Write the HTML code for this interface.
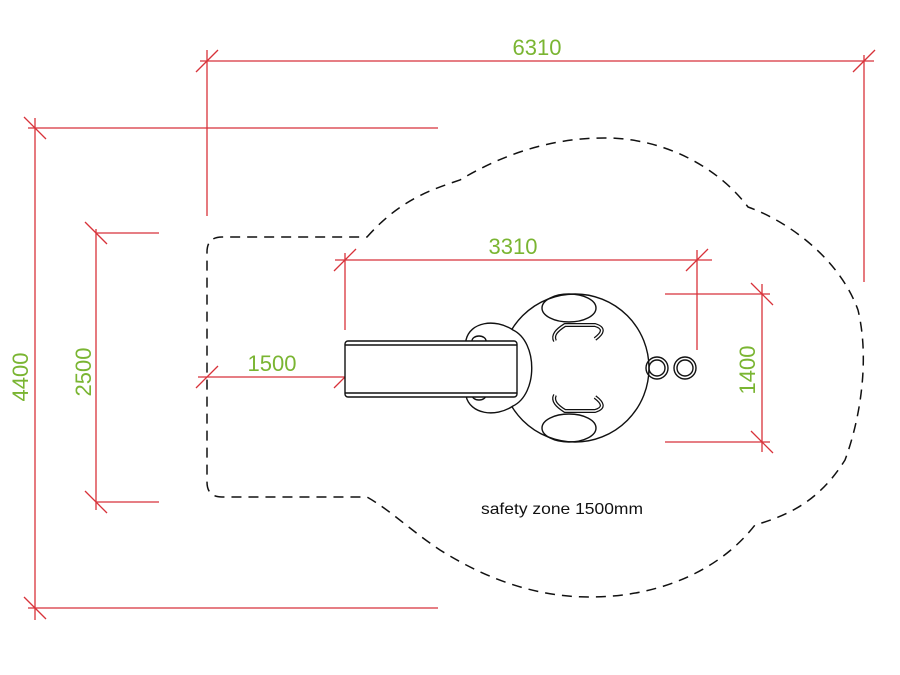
<!DOCTYPE html>
<html><head><meta charset="utf-8"><style>html,body{margin:0;padding:0;background:#fff}svg{display:block}</style></head>
<body>
<svg width="900" height="675" viewBox="0 0 900 675" xmlns="http://www.w3.org/2000/svg">
<g stroke="#d8323a" stroke-width="1.3" fill="none">
<!-- 6310 -->
<line x1="200" y1="61" x2="874" y2="61"/>
<line x1="207" y1="50" x2="207" y2="216"/>
<line x1="864" y1="55" x2="864" y2="282"/>
<line x1="196" y1="72" x2="218" y2="50"/>
<line x1="853" y1="72" x2="875" y2="50"/>
<!-- 4400 -->
<line x1="35" y1="118" x2="35" y2="620"/>
<line x1="28" y1="128" x2="438" y2="128"/>
<line x1="28" y1="608" x2="438" y2="608"/>
<line x1="24" y1="117" x2="46" y2="139"/>
<line x1="24" y1="597" x2="46" y2="619"/>
<!-- 2500 -->
<line x1="96" y1="229" x2="96" y2="510"/>
<line x1="96" y1="233" x2="159" y2="233"/>
<line x1="96" y1="502" x2="159" y2="502"/>
<line x1="85" y1="222" x2="107" y2="244"/>
<line x1="85" y1="491" x2="107" y2="513"/>
<!-- 3310 -->
<line x1="335" y1="260" x2="712" y2="260"/>
<line x1="345" y1="253" x2="345" y2="330"/>
<line x1="697" y1="250" x2="697" y2="350"/>
<line x1="334" y1="271" x2="356" y2="249"/>
<line x1="686" y1="271" x2="708" y2="249"/>
<!-- 1400 -->
<line x1="762" y1="284" x2="762" y2="452"/>
<line x1="665" y1="294" x2="770" y2="294"/>
<line x1="665" y1="442" x2="770" y2="442"/>
<line x1="751" y1="283" x2="773" y2="305"/>
<line x1="751" y1="431" x2="773" y2="453"/>
<!-- 1500 -->
<line x1="198" y1="377" x2="357" y2="377"/>
<line x1="196" y1="388" x2="218" y2="366"/>
<line x1="334" y1="388" x2="356" y2="366"/>
</g>
<!-- safety zone -->
<path d="M367,237 C400,200 430,190 460,180 C510,150 560,137 610,138 C670,140 720,170 748,207 C790,222 840,260 858,310 C870,360 860,420 845,460 C820,500 790,515 755,525 C720,570 660,597 590,597 C530,597 480,575 440,550 C410,530 390,510 367,497 L222,497 Q207,497 207,482 L207,252 Q207,237 222,237 Z" fill="none" stroke="#111" stroke-width="1.5" stroke-dasharray="10,7"/>
<!-- play equipment -->
<g stroke="#111" stroke-width="1.4" fill="none">
<circle cx="575" cy="368" r="74" fill="#fff"/>
<path d="M513,330 C495,318 470,322 466,340 L466,396 C470,414 495,418 513,406 C538,394 538,342 513,330 Z" fill="#fff"/>
<ellipse cx="569" cy="308" rx="27" ry="14"/>
<ellipse cx="569" cy="428" rx="27" ry="14"/>
<path d="M555,341 C552,335 557,330 565,325 L595,325 C605,328 603,333 595,339" stroke-width="4"/>
<path d="M555,341 C552,335 557,330 565,325 L595,325 C605,328 603,333 595,339" stroke="#fff" stroke-width="1.5"/>
<path d="M555,395 C552,401 557,406 565,411 L595,411 C605,408 603,403 595,397" stroke-width="4"/>
<path d="M555,395 C552,401 557,406 565,411 L595,411 C605,408 603,403 595,397" stroke="#fff" stroke-width="1.5"/>
<circle cx="657" cy="368" r="11"/><circle cx="657" cy="368" r="8"/>
<circle cx="685" cy="368" r="11"/><circle cx="685" cy="368" r="8"/>
<ellipse cx="479" cy="341" rx="7" ry="5"/>
<ellipse cx="479" cy="395" rx="7" ry="5"/>
<rect x="345" y="341" width="172" height="56" rx="3" fill="#fff"/>
<line x1="345" y1="345" x2="517" y2="345"/>
<line x1="345" y1="393" x2="517" y2="393"/>
</g>
<g font-family="Liberation Sans, sans-serif" font-size="22" fill="#7ab532" text-anchor="middle">
<text x="537" y="55">6310</text>
<text x="513" y="254">3310</text>
<text x="272" y="371">1500</text>
<text transform="translate(28,377) rotate(-90)">4400</text>
<text transform="translate(91,372) rotate(-90)">2500</text>
<text transform="translate(755,370) rotate(-90)">1400</text>
</g>
<text x="562" y="514" font-family="Liberation Sans, sans-serif" font-size="16" fill="#111" text-anchor="middle" textLength="162" lengthAdjust="spacingAndGlyphs">safety zone 1500mm</text>
</svg>
</body></html>
